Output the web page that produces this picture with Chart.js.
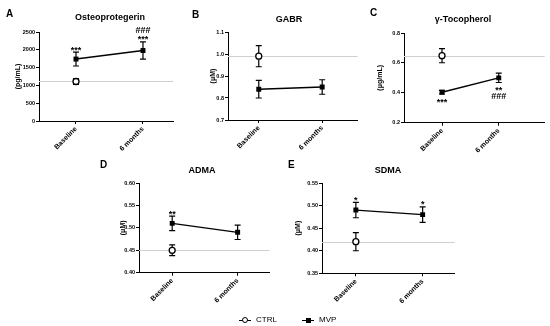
<!DOCTYPE html>
<html>
<head>
<meta charset="utf-8">
<script src="https://cdn.jsdelivr.net/npm/chart.js@4/dist/chart.umd.min.js"></script>
<style>
body{margin:0;background:#fff;width:550px;height:326px;position:relative;overflow:hidden;font-family:"Liberation Sans",Arial,sans-serif}
canvas{position:absolute}
.leg{position:absolute;top:314px;height:12px;font-size:8px;line-height:12px;color:#000}
.leg .ln{position:absolute;left:0;top:5.5px;width:12px;height:1.3px;background:#000}
.leg .circ{position:absolute;left:3px;top:3px;width:4.4px;height:4.4px;border:1.3px solid #000;border-radius:50%;background:#fff}
.leg .sq{position:absolute;left:3.5px;top:3.5px;width:5px;height:5px;background:#000}
.leg span{position:absolute;left:17px;top:0;white-space:nowrap}
</style>
</head>
<body>
<canvas id="pA"></canvas>
<canvas id="pB"></canvas>
<canvas id="pC"></canvas>
<canvas id="pD"></canvas>
<canvas id="pE"></canvas>
<div class="leg" style="left:239px"><div class="ln"></div><div class="circ"></div><span>CTRL</span></div>
<div class="leg" style="left:302px"><div class="ln"></div><div class="sq"></div><span>MVP</span></div>
<script>
const FONT = '"Liberation Sans", Arial, sans-serif';
const xLabels = ['Baseline', '6 months'];

// A - Osteoprotegerin (pg/mL)
const opgCtrl = [1110];
const opgCtrlErr = [80];
const opgMvp = [1740, 1980];
const opgMvpErr = [195, 240];
const opgRef = 1110;
const opgTicks = [0, 2500, 500];
const opgMarks = [[0, 'up', ['***']], [1, 'up', ['***', '###']]];

// B - GABR (uM)
const gabrCtrl = [0.99];
const gabrCtrlErr = [0.048];
const gabrMvp = [0.84, 0.85];
const gabrMvpErr = [0.04, 0.033];
const gabrRef = 0.99;
const gabrTicks = [0.7, 1.1, 0.1];
const gabrMarks = [];

// C - gamma-Tocopherol (ug/mL)
const tocCtrl = [0.648];
const tocCtrlErr = [0.047];
const tocMvp = [0.404, 0.50];
const tocMvpErr = [0.012, 0.031];
const tocRef = 0.648;
const tocTicks = [0.2, 0.8, 0.2];
const tocMarks = [[0, 'down', ['***']], [1, 'down', ['**', '###']]];

// D - ADMA (uM)
const admaCtrl = [0.45];
const admaCtrlErr = [0.012];
const admaMvp = [0.51, 0.49];
const admaMvpErr = [0.016, 0.016];
const admaRef = 0.45;
const admaTicks = [0.40, 0.60, 0.05];
const admaMarks = [[0, 'up', ['**']]];

// E - SDMA (uM)
const sdmaCtrl = [0.42];
const sdmaCtrlErr = [0.02];
const sdmaMvp = [0.49, 0.48];
const sdmaMvpErr = [0.017, 0.017];
const sdmaRef = 0.42;
const sdmaTicks = [0.35, 0.55, 0.05];
const sdmaMarks = [[0, 'up', ['*']], [1, 'up', ['*']]];

// draws ref line, error bars, title, letter and significance marks
function makeDeco(c) {
  return {
    id: 'deco',
    beforeDatasetsDraw(chart) {
      const ctx = chart.ctx, a = chart.chartArea, x = chart.scales.x, y = chart.scales.y;
      ctx.save();
      const ry = Math.round(y.getPixelForValue(c.ref)) + 0.5;
      ctx.strokeStyle = '#cfcfcf';
      ctx.lineWidth = 1;
      ctx.beginPath(); ctx.moveTo(a.left, ry); ctx.lineTo(a.right, ry); ctx.stroke();
      ctx.strokeStyle = '#000';
      ctx.lineWidth = 1.2;
      [[c.ctrl, c.ctrlErr], [c.mvp, c.mvpErr]].forEach(([vals, errs]) => {
        vals.forEach((v, i) => {
          const px = x.getPixelForValue(i);
          const t = y.getPixelForValue(v + errs[i]);
          const b = y.getPixelForValue(v - errs[i]);
          ctx.beginPath();
          ctx.moveTo(px, t); ctx.lineTo(px, b);
          ctx.moveTo(px - 3, t); ctx.lineTo(px + 3, t);
          ctx.moveTo(px - 3, b); ctx.lineTo(px + 3, b);
          ctx.stroke();
        });
      });
      ctx.restore();
    },
    afterDraw(chart) {
      const ctx = chart.ctx, x = chart.scales.x, y = chart.scales.y;
      ctx.save();
      ctx.fillStyle = '#000';
      ctx.textBaseline = 'middle';
      ctx.textAlign = 'left';
      ctx.font = 'bold 10px ' + FONT;
      ctx.fillText(c.letter, c.letterPos[0], c.letterPos[1]);
      ctx.textAlign = 'center';
      ctx.font = 'bold 9px ' + FONT;
      ctx.fillText(c.title, c.titlePos[0], c.titlePos[1]);
      c.marks.forEach(([i, side, txts]) => {
        const px = x.getPixelForValue(i);
        txts.forEach((s, row) => {
          let cy;
          if (side == 'up') cy = y.getPixelForValue(c.mvp[i] + c.mvpErr[i]) - 4 - row * 7;
          else cy = y.getPixelForValue(c.mvp[i] - c.mvpErr[i]) + 6.5 + row * 8;
          if (s[0] == '*') cy += 2;
          ctx.fillText(s, px, cy);
        });
      });
      ctx.restore();
    }
  };
}

function makePanel(c) {
  const cv = document.getElementById(c.id);
  cv.width = c.w; cv.height = c.h;
  cv.style.left = c.left + 'px';
  cv.style.top = c.top + 'px';
  const tickFont = {family: FONT, size: 5.5, weight: 'bold'};
  new Chart(cv, {
    type: 'line',
    data: {
      datasets: [
        {
          label: 'CTRL',
          data: c.ctrl.map((v, i) => ({x: i, y: v})),
          showLine: false,
          pointStyle: 'circle',
          pointRadius: 3,
          pointBackgroundColor: '#fff',
          pointBorderColor: '#000',
          pointBorderWidth: 1.3
        },
        {
          label: 'MVP',
          data: c.mvp.map((v, i) => ({x: i, y: v})),
          borderColor: '#000',
          borderWidth: 1.4,
          pointStyle: 'rect',
          pointRadius: 3.5,
          pointBackgroundColor: '#000',
          pointBorderColor: '#000',
          pointBorderWidth: 0
        }
      ]
    },
    options: {
      responsive: false,
      animation: false,
      layout: {padding: {left: c.pl, top: c.pt, right: c.pr, bottom: 0}},
      plugins: {legend: {display: false}, tooltip: {enabled: false}},
      scales: {
        x: {
          type: 'linear',
          min: c.xr[0],
          max: c.xr[1],
          afterBuildTicks: s => { s.ticks = [{value: 0}, {value: 1}]; },
          afterFit: s => { s.height = c.xh; },
          ticks: {
            callback: v => xLabels[v],
            minRotation: 45, maxRotation: 45, autoSkip: false,
            color: '#000', font: {family: FONT, size: 7, weight: 'bold'}, padding: 1
          },
          grid: {drawOnChartArea: false, drawTicks: true, tickLength: 3, color: '#000'},
          border: {color: '#000', width: 1}
        },
        y: {
          min: c.yt[0],
          max: c.yt[1],
          afterFit: s => { s.width = c.yw; },
          ticks: {
            stepSize: c.yt[2],
            callback: v => v.toFixed(c.dec),
            color: '#000', font: tickFont, padding: 1
          },
          title: {display: true, text: c.yTitle, color: '#000', padding: 0,
                  font: {family: FONT, size: 7, weight: 'bold'}},
          grid: {drawOnChartArea: false, drawTicks: true, tickLength: 3, color: '#000'},
          border: {color: '#000', width: 1}
        }
      }
    },
    plugins: [makeDeco(c)]
  });
}

makePanel({id: 'pA', left: 0, top: 0, w: 183, h: 160, pl: 14, yw: 25, pt: 32, pr: 10, xh: 39,
  xr: [-0.552, 1.448], yt: opgTicks, dec: 0, yTitle: '(pg/mL)',
  title: 'Osteoprotegerin', titlePos: [110, 18], letter: 'A', letterPos: [6, 14],
  ctrl: opgCtrl, ctrlErr: opgCtrlErr, mvp: opgMvp, mvpErr: opgMvpErr, ref: opgRef, marks: opgMarks});

makePanel({id: 'pB', left: 183, top: 0, w: 180, h: 160, pl: 26, yw: 19, pt: 32, pr: 0, xh: 40,
  xr: [-0.485, 1.56], yt: gabrTicks, dec: 1, yTitle: '(\u03bcM)',
  title: 'GABR', titlePos: [106, 20], letter: 'B', letterPos: [9, 15],
  ctrl: gabrCtrl, ctrlErr: gabrCtrlErr, mvp: gabrMvp, mvpErr: gabrMvpErr, ref: gabrRef, marks: gabrMarks});

makePanel({id: 'pC', left: 363, top: 0, w: 187, h: 160, pl: 13, yw: 28, pt: 33, pr: 2, xh: 37.3,
  xr: [-0.67, 1.81], yt: tocTicks, dec: 1, yTitle: '(\u03bcg/mL)',
  title: '\u03b3-Tocopherol', titlePos: [100, 20], letter: 'C', letterPos: [7, 13],
  ctrl: tocCtrl, ctrlErr: tocCtrlErr, mvp: tocMvp, mvpErr: tocMvpErr, ref: tocRef, marks: tocMarks});

makePanel({id: 'pD', left: 90, top: 150, w: 185, h: 158, pl: 29, yw: 20, pt: 33, pr: 2, xh: 35.3,
  xr: [-0.507, 1.49], yt: admaTicks, dec: 2, yTitle: '(\u03bcM)',
  title: 'ADMA', titlePos: [112, 21], letter: 'D', letterPos: [10, 15],
  ctrl: admaCtrl, ctrlErr: admaCtrlErr, mvp: admaMvp, mvpErr: admaMvpErr, ref: admaRef, marks: admaMarks});

makePanel({id: 'pE', left: 275, top: 150, w: 185, h: 158, pl: 19, yw: 28, pt: 33, pr: 5, xh: 34.7,
  xr: [-0.507, 1.48], yt: sdmaTicks, dec: 2, yTitle: '(\u03bcM)',
  title: 'SDMA', titlePos: [113, 21], letter: 'E', letterPos: [13, 15],
  ctrl: sdmaCtrl, ctrlErr: sdmaCtrlErr, mvp: sdmaMvp, mvpErr: sdmaMvpErr, ref: sdmaRef, marks: sdmaMarks});
</script>
</body>
</html>
